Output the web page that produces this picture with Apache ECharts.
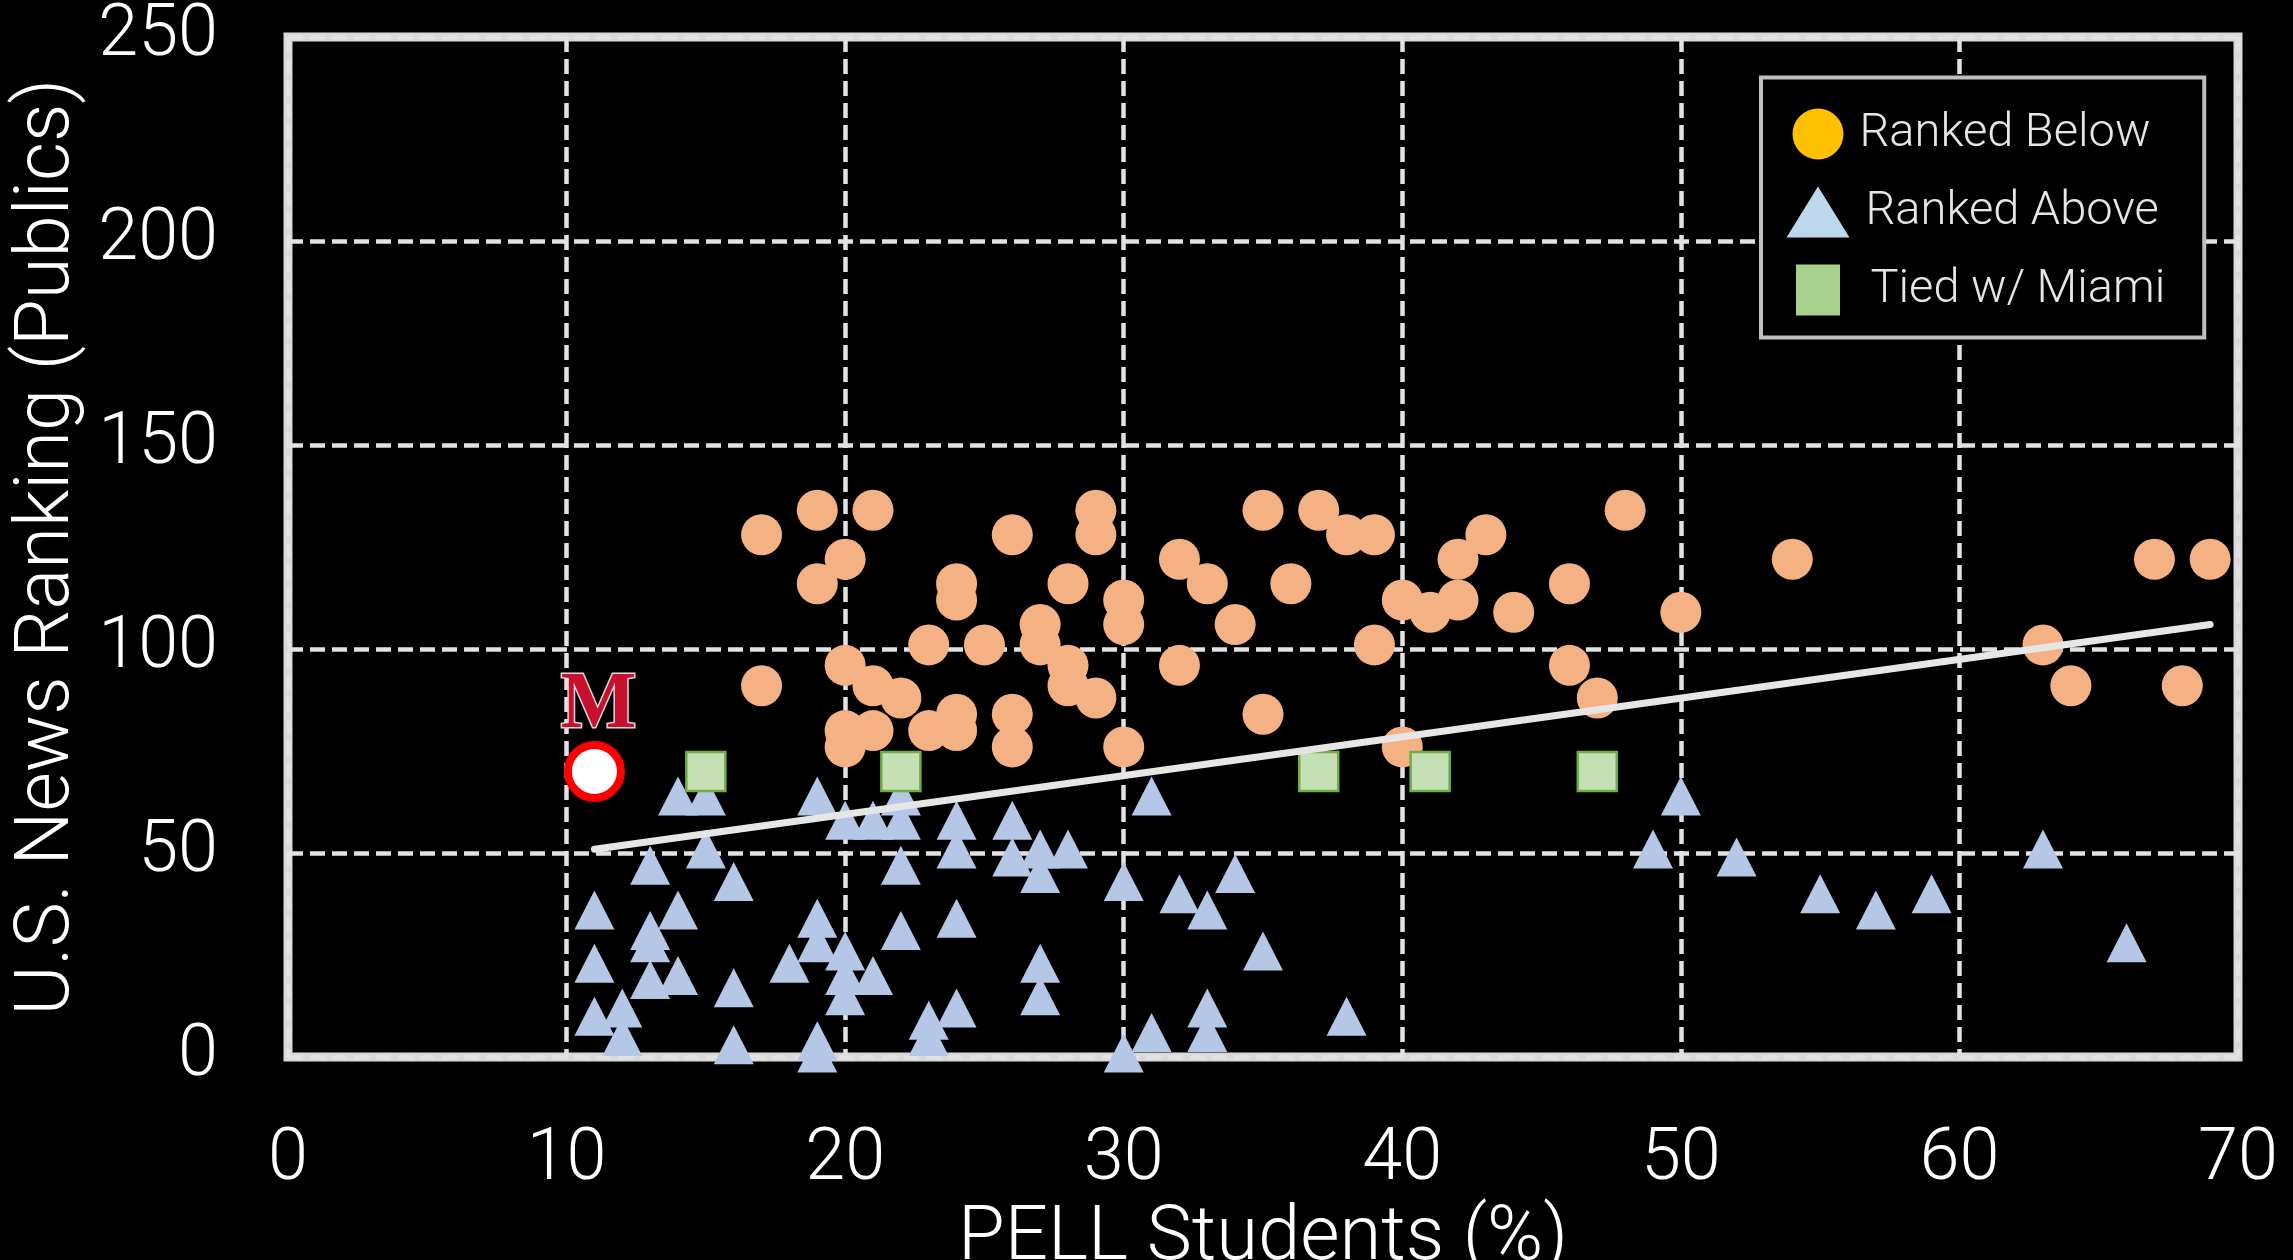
<!DOCTYPE html>
<html>
<head>
<meta charset="utf-8">
<title>PELL Students vs U.S. News Ranking</title>
<script src="https://cdn.jsdelivr.net/npm/echarts@6/dist/echarts.min.js"></script>
<style>
  html, body { margin: 0; padding: 0; background: #000; }
  #chart { width: 2293px; height: 1260px; }
</style>
</head>
<body>
<div id="chart"></div>
<script>
// axis ranges
const xRange = [0, 70, 10];
const yRange = [0, 250, 50];

// [PELL %, ranking]
const rankedBelow = [
  [17, 128], [19, 134], [21, 134], [20, 122], [19, 116], [17, 91], [20, 96], [21, 91],
  [22, 88], [20, 80], [21, 80], [20, 76],
  [26, 128], [29, 134], [29, 128], [24, 116], [24, 112], [28, 116], [30, 112], [30, 106],
  [32, 122], [33, 116], [34, 106], [32, 96], [23, 101], [25, 101], [27, 106], [27, 101],
  [28, 96], [28, 91], [29, 88], [23, 80], [24, 84], [24, 80], [26, 84], [26, 76], [30, 76],
  [35, 134], [37, 134], [38, 128], [39, 128], [43, 128], [42, 122], [48, 134], [36, 116],
  [40, 112], [41, 109], [42, 112], [44, 109], [46, 116], [50, 109], [39, 101], [35, 84],
  [46, 96], [47, 88], [40, 76],
  [54, 122], [67, 122], [69, 122], [63, 101], [64, 91], [68, 91]
];

const rankedAbove = [
  [11, 36], [11, 23], [11, 10], [12, 12], [12, 5], [13, 47], [13, 31], [13, 28], [13, 19],
  [14, 64], [14, 36], [14, 20], [15, 64], [15, 51], [16, 43], [16, 17], [16, 3], [18, 23],
  [19, 64], [19, 34], [19, 28], [19, 4], [19, 1], [20, 58], [20, 26], [20, 20], [20, 15],
  [21, 58], [21, 20], [22, 64], [22, 58], [22, 47], [22, 31], [23, 9], [23, 5],
  [24, 58], [24, 51], [24, 34], [24, 12], [26, 58], [26, 49], [27, 51], [27, 45], [27, 23],
  [27, 15], [28, 51], [30, 43], [30, 1], [31, 64], [31, 6], [32, 40], [33, 36], [33, 12],
  [33, 6], [34, 45], [35, 26], [38, 10], [49, 51], [50, 64], [52, 49], [55, 40], [57, 36],
  [59, 40], [63, 51], [66, 28]
];

const tiedMiami = [[15, 70], [22, 70], [37, 70], [41, 70], [47, 70]];
const miami = [[11, 70]];
const trendLine = [[11, 50.9], [69, 106]];

const chart = echarts.init(document.getElementById("chart"));
const font = "Roboto";

const option = {
  backgroundColor: "#000",
  animation: false,
  grid: {
    left: 288,
    top: 37,
    width: 1950,
    height: 1020,
    show: true,
    borderColor: "#d9d9d9",
    borderWidth: 9,
    backgroundColor: "transparent",
    outerBoundsMode: "none",
  },
  legend: {
    orient: "vertical",
    left: 1761,
    top: 77.5,
    padding: [31, 39, 22, 25.5],
    itemGap: 27,
    itemWidth: 63,
    itemHeight: 51,
    backgroundColor: "#000",
    borderColor: "#bfbfbf",
    borderWidth: 4,
    textStyle: { color: "#e6e6e6", fontSize: 47, fontFamily: font, fontWeight: 300, padding: [0, 0, 0, 5] },
    data: [
      { name: "Ranked Below", icon: "circle", itemStyle: { color: "#ffc000", borderWidth: 0 } },
      { name: "Ranked Above", icon: "triangle", itemStyle: { color: "#bdd7ee", borderWidth: 0 },
        textStyle: { padding: [0, 0, 0, 11] } },
      { name: "Tied w/ Miami", icon: "path://M0 0H44V51H0Z", itemStyle: { color: "#a9d18e", borderWidth: 0 },
        textStyle: { padding: [0, 0, 0, 16] } },
    ],
  },
  xAxis: {
    type: "value",
    min: xRange[0],
    max: xRange[1],
    interval: xRange[2],
    name: "PELL Students (%)",
    nameLocation: "middle",
    nameGap: 124,
    nameTextStyle: { color: "#fff", fontSize: 76, fontFamily: font, fontWeight: 300 },
    axisLine: { show: false },
    axisTick: { show: false },
    axisLabel: { color: "#fff", fontSize: 72, fontFamily: font, fontWeight: 300, margin: 68 },
    splitLine: { show: true, lineStyle: { color: "#e2e2e2", width: 4.5, type: [15, 7] } },
  },
  yAxis: {
    type: "value",
    min: yRange[0],
    max: yRange[1],
    interval: yRange[2],
    name: "U.S. News Ranking (Publics)",
    nameLocation: "middle",
    nameGap: 196,
    nameTextStyle: { color: "#fff", fontSize: 76, fontFamily: font, fontWeight: 300 },
    axisLine: { show: false },
    axisTick: { show: false },
    axisLabel: { color: "#fff", fontSize: 72, fontFamily: font, fontWeight: 300, margin: 70 },
    splitLine: { show: true, lineStyle: { color: "#e2e2e2", width: 4.5, type: [15, 7] } },
  },
  series: [
    {
      name: "Ranked Above",
      type: "scatter",
      data: rankedAbove,
      symbol: "triangle",
      symbolSize: [40, 39],
      itemStyle: { color: "#b4c7e7", opacity: 1 },
    },
    {
      name: "Ranked Below",
      type: "scatter",
      data: rankedBelow,
      symbol: "circle",
      symbolSize: 41,
      itemStyle: { color: "#f4b183", opacity: 1 },
    },
    {
      name: "Tied w/ Miami",
      type: "scatter",
      data: tiedMiami,
      symbol: "rect",
      symbolSize: 39,
      itemStyle: { color: "#c5e0b4", borderColor: "#70ad47", borderWidth: 2.5, opacity: 1 },
    },
    {
      name: "Trend",
      type: "line",
      data: trendLine,
      symbol: "none",
      lineStyle: { color: "#e6e6e6", width: 7, cap: "round" },
      z: 3,
    },
    {
      name: "Miami",
      type: "scatter",
      data: miami,
      symbol: "circle",
      symbolSize: 53,
      itemStyle: { color: "#fff", borderColor: "#ff0000", borderWidth: 8, opacity: 1 },
      label: {
        show: true,
        formatter: "M",
        position: ["50%", "50%"],
        offset: [4, -65],
        align: "center",
        verticalAlign: "middle",
        fontFamily: "Liberation Serif",
        fontWeight: "bold",
        fontSize: 80,
        color: "#c8102e",
        textBorderColor: "#d9d9d9",
        textBorderWidth: 3,
      },
      z: 4,
    },
  ],
};

chart.setOption(option);
</script>
</body>
</html>
